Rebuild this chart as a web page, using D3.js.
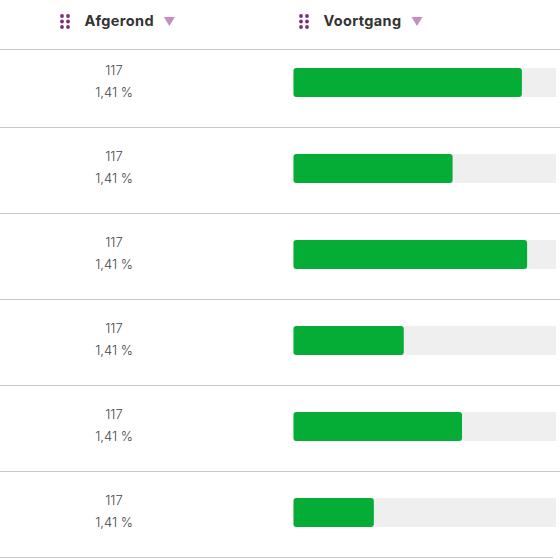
<!DOCTYPE html>
<html>
<head>
<meta charset="utf-8">
<script src="https://cdn.jsdelivr.net/npm/d3@7"></script>
<style>
  html, body { margin: 0; padding: 0; background: #fff; overflow: hidden; }
  svg { display: block; }
  text { font-family: "Inter", "Open Sans", sans-serif; }
</style>
</head>
<body>
<div id="chart"></div>
<script>
// data
const columns  = ["Afgerond", "Voortgang"];
const counts   = ["117", "117", "117", "117", "117", "117"];
const percents = ["1,41 %", "1,41 %", "1,41 %", "1,41 %", "1,41 %", "1,41 %"];
const progress = [87, 60.6, 89, 42, 64.2, 30.6];

const width = 560, height = 560;

const svg = d3.select("#chart").append("svg")
  .attr("width", width)
  .attr("height", height);

// rows
const rowY = d3.scaleLinear().domain([0, 6]).range([41.5, 557.5]);
const x = d3.scaleLinear().domain([0, 100]).range([293.5, 556]);

// row separators, first one sits a bit higher than the grid
const lineYs = [49.5].concat(d3.range(1, 7).map(i => rowY(i)));
svg.selectAll("line.sep")
  .data(lineYs)
  .join("line")
    .attr("class", "sep")
    .attr("x1", 0)
    .attr("x2", (d, i) => i === 6 ? 553 : width)
    .attr("y1", d => d)
    .attr("y2", d => d)
    .attr("stroke", "#c8c8c8")
    .attr("stroke-width", 1);

// header
const headerX = [59, 298];
columns.forEach((name, c) => {
  const g = svg.append("g").attr("transform", `translate(${headerX[c]},0)`);

  // drag handle dots
  d3.cross([0, 1, 2], [0, 1]).forEach(([r, k]) => {
    g.append("circle")
      .attr("cx", 3 + k * 6)
      .attr("cy", 16 + r * 5.5)
      .attr("r", 1.9)
      .attr("fill", "#7b2d78");
  });

  const label = g.append("text")
    .attr("x", 25.5)
    .attr("y", 26)
    .attr("font-size", 14.5)
    .attr("font-weight", 700)
    .attr("letter-spacing", 0.35)
    .attr("fill", "#333")
    .text(name);

  // sort arrow
  const end = label.node().getComputedTextLength() + 25.5;
  const ax = end + 10;
  g.append("path")
    .attr("d", `M${ax},17 h11 l-5.5,9 z`)
    .attr("fill", "#c48fbf");
});

// count + percent column
svg.selectAll("text.count")
  .data(counts)
  .join("text")
    .attr("class", "count")
    .attr("x", 114)
    .attr("y", (d, i) => rowY(i) + 33.5)
    .attr("text-anchor", "middle")
    .attr("font-size", 13)
    .attr("font-weight", 300)
    .attr("fill", "#444")
    .text(d => d);

svg.selectAll("text.pct")
  .data(percents)
  .join("text")
    .attr("class", "pct")
    .attr("x", 114)
    .attr("y", (d, i) => rowY(i) + 55.5)
    .attr("text-anchor", "middle")
    .attr("font-size", 13)
    .attr("font-weight", 300)
    .attr("fill", "#444")
    .text(d => d);

// progress tracks and bars
const barH = 29;
svg.selectAll("rect.track")
  .data(progress)
  .join("rect")
    .attr("class", "track")
    .attr("x", x(0))
    .attr("y", (d, i) => rowY(i) + 26.5)
    .attr("width", x(100) - x(0))
    .attr("height", barH)
    .attr("fill", "#efefef");

svg.selectAll("rect.bar")
  .data(progress)
  .join("rect")
    .attr("class", "bar")
    .attr("x", x(0))
    .attr("y", (d, i) => rowY(i) + 26.5)
    .attr("width", d => x(d) - x(0))
    .attr("height", barH)
    .attr("rx", 3)
    .attr("fill", "#05ac35");
</script>
</body>
</html>
